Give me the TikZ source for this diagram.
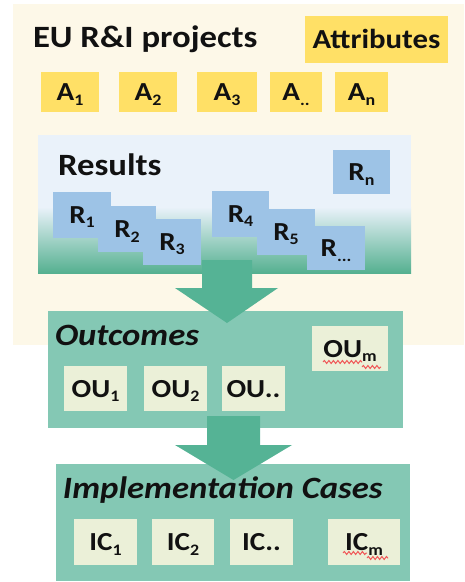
\documentclass[tikz,border=0pt]{standalone}
\usepackage{fontspec}
\setmainfont{Carlito}[FakeStretch=1.12]
\usetikzlibrary{calc,decorations.pathmorphing}
\definecolor{cream}{HTML}{FDF8E8}
\definecolor{yel}{HTML}{FFE066}
\definecolor{resblue}{HTML}{EAF2FA}
\definecolor{rbox}{HTML}{9DC3E6}
\definecolor{midgreen}{HTML}{A8D9C7}
\definecolor{botgreen}{HTML}{55B090}
\definecolor{arrowgreen}{HTML}{55B395}
\definecolor{outgreen}{HTML}{84C8B4}
\definecolor{oubox}{HTML}{EBF0D8}
\definecolor{ink}{HTML}{111111}
\definecolor{squig}{HTML}{F05A5A}
\newcommand\lowsub[1]{\raisebox{-4.5pt}{\fontsize{16}{16}\selectfont #1}}
\tikzset{
  plainbox/.style={rectangle, inner sep=0pt, outer sep=0pt, draw=none},
  lbl/.style={plainbox, text=ink, font=\fontsize{26}{26}\selectfont\bfseries, text height=17pt, text depth=0pt},
  abox/.style={lbl, fill=yel, minimum height=40pt},
  rb/.style={lbl, fill=rbox, minimum width=58pt, minimum height=46pt},
  oub/.style={lbl, fill=oubox, minimum width=63pt, minimum height=45pt},
  heading/.style={inner sep=0pt, outer sep=0pt, anchor=base west, text=ink, font=\fontsize{31}{31}\selectfont\bfseries},
  iheading/.style={heading, font=\fontsize{31}{31}\selectfont\bfseries\itshape},
  blockarrow/.style={fill=arrowgreen, draw=none},
  squiggle/.style={draw=squig, line width=1pt, decorate, decoration={snake, amplitude=1.5pt, segment length=4.5pt}}
}
\begin{document}
\begin{tikzpicture}[x=1pt, y=-1pt]
\useasboundingbox (0,0) rectangle (464,582);
% project background
\node[plainbox, fill=cream, minimum width=451pt, minimum height=341pt] (projects) at (238.5,174.5) {};
\node[heading] (title) at (33,47) {EU R\&I projects};
\node[lbl, fill=yel, minimum width=143pt, minimum height=47pt, font=\fontsize{27.5}{27.5}\selectfont\bfseries] (attr) at (376.5,39.5) {Attributes};
\node[abox, minimum width=58pt] (a1) at (70,92) {A\lowsub{1}};
\node[abox, minimum width=58pt] (a2) at (148,92) {A\lowsub{2}};
\node[abox, minimum width=60pt] (a3) at (227,92) {A\lowsub{3}};
\node[abox, minimum width=52pt] (adots) at (296,92) {A\lowsub{..}};
\node[abox, minimum width=53pt] (an) at (361.5,92) {A\lowsub{n}};
% results
\node[plainbox, fill=resblue, minimum width=373pt, minimum height=138pt] (results) at (224.5,204) {};
\shade[top color=resblue, middle color=midgreen, bottom color=botgreen] (results.south west) rectangle ($(results.south east)+(0,-66)$);
\node[heading] (restitle) at (58,175) {Results};
\node[rb, minimum width=57pt, minimum height=44pt] (rn) at (361.5,172) {R\lowsub{n}};
\node[rb] (r1) at (82,214.5) {R\lowsub{1}};
\node[rb] (r2) at (127,229) {R\lowsub{2}};
\node[rb] (r3) at (172,241.5) {R\lowsub{3}};
\node[rb, minimum width=57pt] (r4) at (240.5,213.5) {R\lowsub{4}};
\node[rb] (r5) at (286,231.5) {R\lowsub{5}};
\node[rb, minimum height=44pt] (rdots) at (336,248) {R\lowsub{...}};
% outcomes
\node[plainbox, fill=outgreen, minimum width=355pt, minimum height=117pt] (outcomes) at (225.5,369.5) {};
\node[iheading] (outtitle) at (55,345) {Outcomes};
\node[oub] (ou1) at (95.5,388.5) {OU\lowsub{1}};
\node[oub] (ou2) at (175.5,388.5) {OU\lowsub{2}};
\node[oub] (oudots) at (253.5,388.5) {OU..};
\node[oub, minimum width=76pt] (oum) at (350,348.5) {OU\lowsub{m}};
% implementation cases
\node[plainbox, fill=outgreen, minimum width=354pt, minimum height=117pt] (impl) at (233,522.5) {};
\node[iheading] (impltitle) at (63,498) {Implementation Cases};
\node[oub, minimum height=46pt] (ic1) at (105.5,542) {IC\lowsub{1}};
\node[oub, minimum width=62pt, minimum height=46pt] (ic2) at (183,542) {IC\lowsub{2}};
\node[oub, minimum height=46pt] (icdots) at (261.5,542) {IC..};
\node[oub, minimum width=72pt, minimum height=46pt] (icm) at (364,542) {IC\lowsub{m}};
% block arrows
\coordinate (a1s) at (227,260);
\coordinate (a1t) at (227,323);
\fill[blockarrow] ($(a1s)+(-25,0)$) -- ($(a1s)+(25,0)$) -- ($(a1s)+(25,28)$) -- ($(a1s)+(51,28)$) -- (a1t) -- ($(a1s)+(-52,28)$) -- ($(a1s)+(-25,28)$) -- cycle;
\coordinate (a2s) at (233.5,416);
\coordinate (a2t) at (233.5,480);
\fill[blockarrow] ($(a2s)+(-26.5,0)$) -- ($(a2s)+(26.5,0)$) -- ($(a2s)+(26.5,29)$) -- ($(a2s)+(58.5,29)$) -- (a2t) -- ($(a2s)+(-58.5,29)$) -- ($(a2s)+(-26.5,29)$) -- cycle;
% spelling squiggles
\draw[squiggle] (323,362) -- (362,362);
\draw[squiggle] (362,367) -- (381,367);
\draw[squiggle] (343,553) -- (367,553);
\draw[squiggle] (367,558) -- (388,558);
\end{tikzpicture}
\end{document}
